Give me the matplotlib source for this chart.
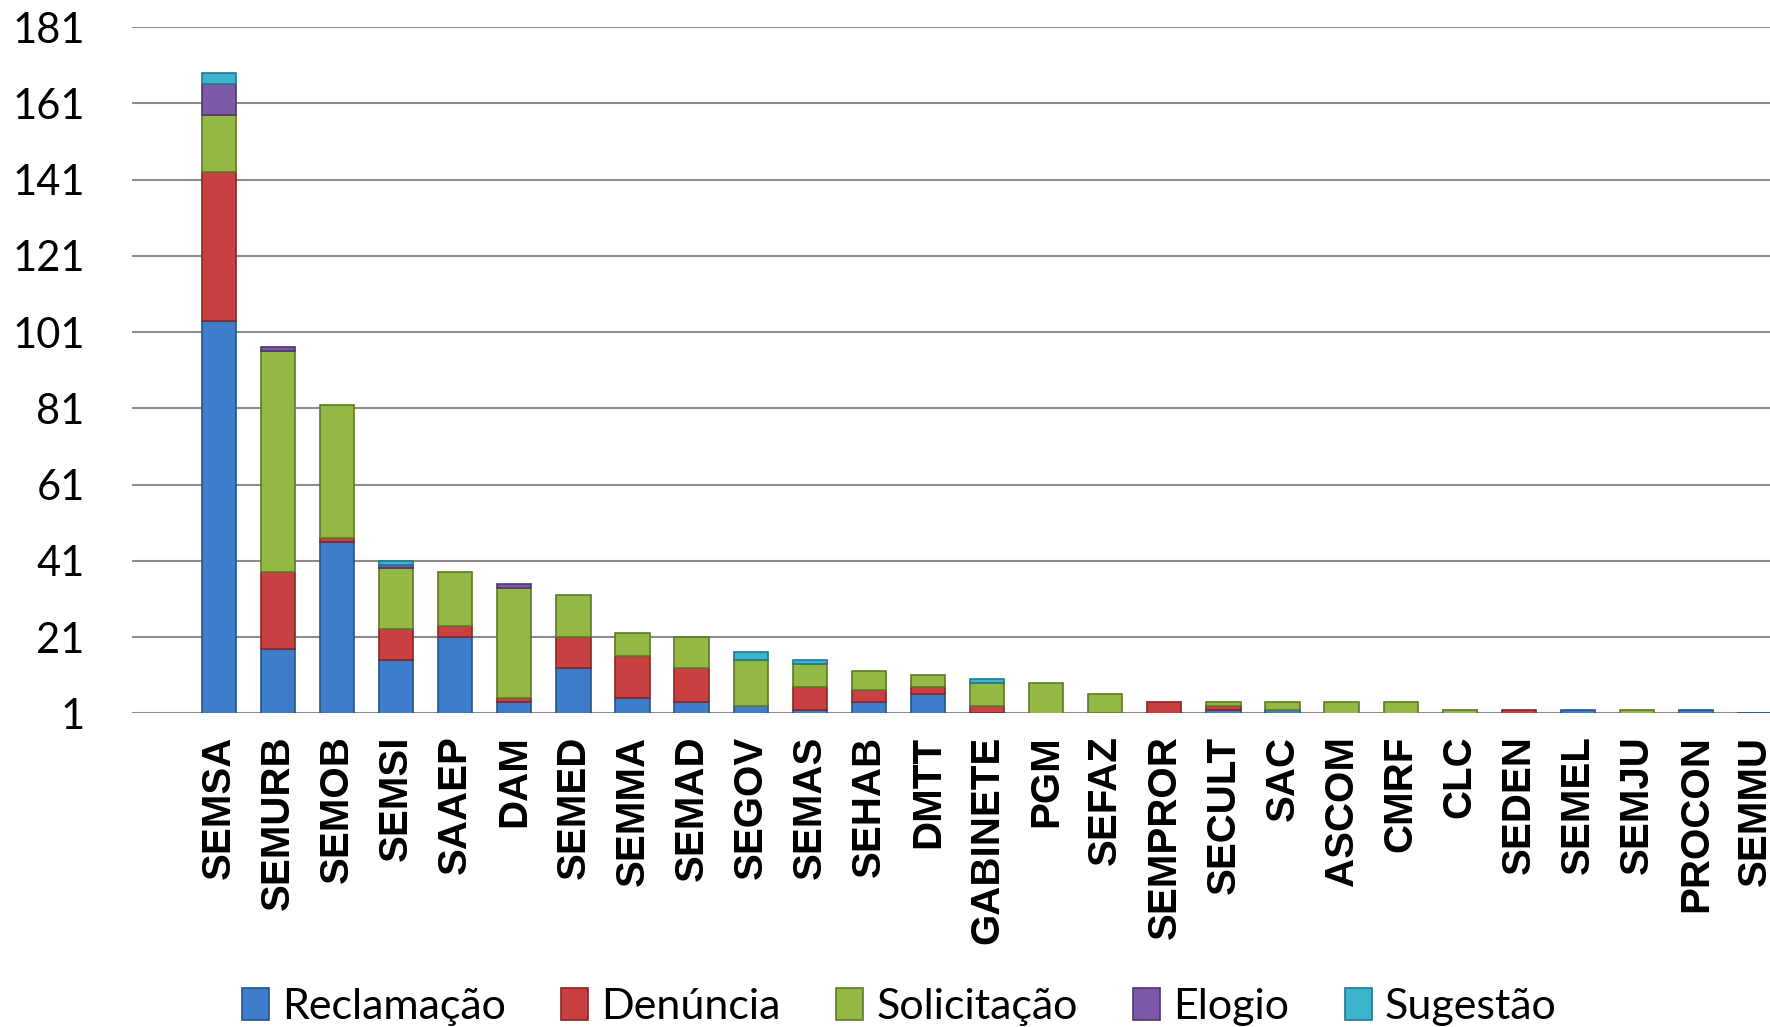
import numpy as np
import matplotlib
matplotlib.use("Agg")
import matplotlib.pyplot as plt

categories = ["SEMSA", "SEMURB", "SEMOB", "SEMSI", "SAAEP", "DAM", "SEMED", "SEMMA",
              "SEMAD", "SEGOV", "SEMAS", "SEHAB", "DMTT", "GABINETE", "PGM", "SEFAZ",
              "SEMPROR", "SECULT", "SAC", "ASCOM", "CMRF", "CLC", "SEDEN", "SEMEL",
              "SEMJU", "PROCON", "SEMMU"]

reclamacao  = [104, 18, 46, 15, 21, 4, 13, 5, 4, 3, 2, 4, 6, 1, 0, 0, 0, 2, 2, 0, 0, 0, 0, 2, 0, 2, 1]
denuncia    = [39, 20, 1, 8, 3, 1, 8, 11, 9, 0, 6, 3, 2, 2, 0, 1, 4, 1, 0, 0, 0, 0, 2, 0, 0, 0, 0]
solicitacao = [15, 58, 35, 16, 14, 29, 11, 6, 8, 12, 6, 5, 3, 6, 9, 5, 0, 1, 2, 4, 4, 2, 0, 0, 2, 0, 0]
elogio      = [8, 1, 0, 1, 0, 1, 0, 0, 0, 0, 0, 0, 0, 0, 0, 0, 0, 0, 0, 0, 0, 0, 0, 0, 0, 0, 0]
sugestao    = [3, 0, 0, 1, 0, 0, 0, 0, 0, 2, 1, 0, 0, 1, 0, 0, 0, 0, 0, 0, 0, 0, 0, 0, 0, 0, 0]

series = [
    ("Reclamação", reclamacao, "#3d7dca", "#24548f"),
    ("Denúncia", denuncia, "#c94040", "#8a2525"),
    ("Solicitação", solicitacao, "#93b944", "#5e7a26"),
    ("Elogio", elogio, "#7d59a8", "#4e3670"),
    ("Sugestão", sugestao, "#3cb4cf", "#22788c"),
]
yticks = list(range(1, 182, 20))

fig = plt.figure(figsize=(17.7, 10.27), dpi=100)
ax = fig.add_axes([132 / 1770, 0.3054, 1 - 132 / 1770, 0.6682])

x = np.arange(len(categories))
bottom = np.zeros(len(categories))
handles = []
for name, vals, col, edge in series:
    vals = np.array(vals, dtype=float)
    bars = ax.bar(x, vals, 0.58, bottom=bottom, color=col, edgecolor=edge,
                  linewidth=np.where(vals > 0, 1.2, 0), label=name, zorder=3)
    handles.append(bars)
    bottom += vals

ax.set_ylim(1, 181)
ax.set_xlim(-1.47, 26.25)
ax.set_yticks(yticks)
ax.yaxis.grid(True, color="#8c8c8c", linewidth=1.5, zorder=0)
ax.set_axisbelow(True)
for s in ax.spines.values():
    s.set_visible(False)
ax.tick_params(axis="both", length=0)
ax.tick_params(axis="y", pad=34, labelsize=30)
ax.set_xticks(x)
ax.set_xticklabels(categories, rotation=90, fontsize=29, fontweight="bold",
                   family="Liberation Sans", va="top", ha="center")
ax.tick_params(axis="x", pad=16)
for lab in ax.get_yticklabels():
    lab.set_family("Lato")

fig.legend(handles=handles, loc="center", bbox_to_anchor=(0.508, 0.0196), ncol=5,
           frameon=False, prop={"family": "Lato", "size": 31},
           handlelength=0.63, handleheight=0.75, handletextpad=0.3, columnspacing=1.29)

fig.savefig("out.png", dpi=100)
